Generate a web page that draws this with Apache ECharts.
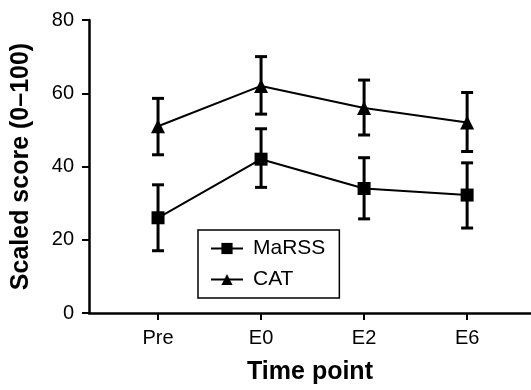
<!DOCTYPE html>
<html>
<head>
<meta charset="utf-8">
<script src="https://cdn.jsdelivr.net/npm/echarts@6/dist/echarts.min.js"></script>
<style>
html,body{margin:0;padding:0;background:#fff;}
#c{width:531px;height:390px;}
</style>
</head>
<body>
<div id="c"></div>
<script>
const categories = ['Pre', 'E0', 'E2', 'E6'];
const marssMean = [26, 42, 34, 32.2];
const marssLow = [17, 34.3, 25.7, 23.2];
const marssHigh = [35, 50.3, 42.4, 41];
const catMean = [51, 62, 56, 52];
const catLow = [43.2, 54.3, 48.6, 44.1];
const catHigh = [58.6, 70, 63.6, 60.2];
const yTicks = [0, 20, 40, 60, 80];

const font = 'Liberation Sans, Arial, sans-serif';
const idx = categories.map((c, i) => i);

function errData(low, high) {
  return idx.map(i => [i, low[i], high[i]]);
}
function errSeries(low, high) {
  return {
    type: 'custom',
    data: errData(low, high),
    z: 2,
    silent: true,
    renderItem: function (params, api) {
      const x = api.value(0);
      const lo = api.coord([x, api.value(1)]);
      const hi = api.coord([x, api.value(2)]);
      const hw = 6;
      const style = { stroke: '#000', lineWidth: 3, fill: null };
      return {
        type: 'group',
        children: [
          { type: 'line', shape: { x1: lo[0], y1: lo[1], x2: hi[0], y2: hi[1] }, style: style },
          { type: 'line', shape: { x1: lo[0] - hw, y1: lo[1], x2: lo[0] + hw, y2: lo[1] }, style: style },
          { type: 'line', shape: { x1: hi[0] - hw, y1: hi[1], x2: hi[0] + hw, y2: hi[1] }, style: style }
        ]
      };
    }
  };
}

const chart = echarts.init(document.getElementById('c'), null, { renderer: 'canvas' });
chart.setOption({
  animation: false,
  backgroundColor: '#fff',
  textStyle: { fontFamily: font, color: '#000' },
  grid: { left: 89, right: 0, top: 20, bottom: 74 },
  legend: {
    orient: 'vertical',
    left: 198,
    top: 230,
    itemWidth: 32,
    itemHeight: 14,
    itemGap: 10,
    padding: [8, 14, 8, 12],
    borderColor: '#000',
    borderWidth: 1.5,
    borderRadius: 0,
    textStyle: { fontFamily: font, fontSize: 21, color: '#000', padding: [0, 0, 0, 5] },
    data: ['MaRSS', 'CAT']
  },
  xAxis: {
    type: 'value',
    min: -0.67,
    max: 3.62,
    splitLine: { show: false },
    axisLine: { show: true, onZero: false, lineStyle: { color: '#000', width: 2.5 } },
    axisTick: { show: true, length: 7, lineStyle: { color: '#000', width: 2 }, customValues: idx },
    axisLabel: {
      customValues: idx,
      formatter: v => categories[Math.round(v)],
      fontSize: 20, color: '#000', fontFamily: font, margin: 15
    },
    name: 'Time point',
    nameLocation: 'middle',
    nameGap: 47,
    nameTextStyle: { fontSize: 25, fontWeight: 'bold', color: '#000', fontFamily: font }
  },
  yAxis: {
    type: 'value',
    min: yTicks[0],
    max: yTicks[yTicks.length - 1],
    interval: 20,
    splitLine: { show: false },
    axisLine: { show: true, onZero: false, lineStyle: { color: '#000', width: 2.5 } },
    axisTick: { show: true, length: 7, lineStyle: { color: '#000', width: 2 } },
    axisLabel: { fontSize: 20, color: '#000', fontFamily: font, margin: 15 },
    name: 'Scaled score (0\u2013100)',
    nameLocation: 'middle',
    nameRotate: 90,
    nameGap: 55,
    nameTextStyle: { fontSize: 25, fontWeight: 'bold', color: '#000', fontFamily: font }
  },
  series: [
    errSeries(marssLow, marssHigh),
    errSeries(catLow, catHigh),
    {
      name: 'MaRSS',
      type: 'line',
      data: idx.map(i => [i, marssMean[i]]),
      symbol: 'rect',
      symbolSize: 13,
      z: 3,
      itemStyle: { color: '#000' },
      lineStyle: { color: '#000', width: 2 }
    },
    {
      name: 'CAT',
      type: 'line',
      data: idx.map(i => [i, catMean[i]]),
      symbol: 'triangle',
      symbolSize: 14,
      z: 3,
      itemStyle: { color: '#000' },
      lineStyle: { color: '#000', width: 2 }
    }
  ]
});
</script>
</body>
</html>
